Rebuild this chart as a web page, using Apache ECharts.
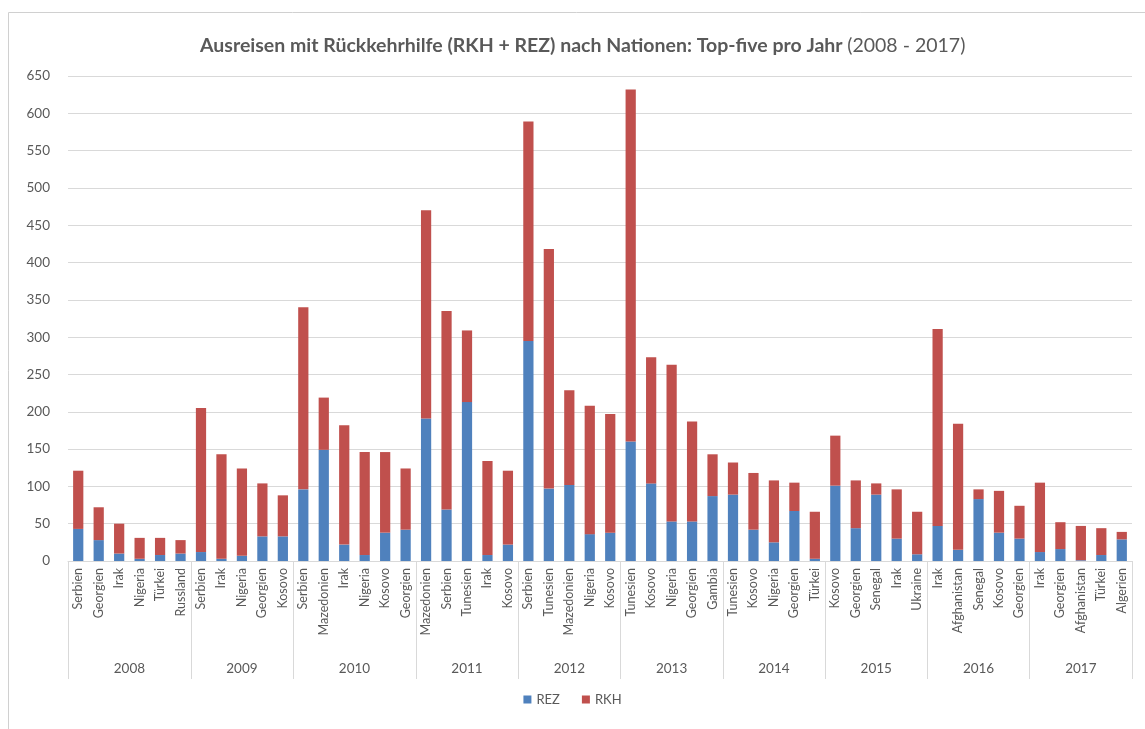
<!DOCTYPE html>
<html>
<head>
<meta charset="utf-8">
<script src="https://cdn.jsdelivr.net/npm/echarts@6/dist/echarts.min.js"></script>
<style>
  html, body { margin: 0; padding: 0; background: #fff; }
  #chart { width: 1145px; height: 729px; }
</style>
</head>
<body>
<div id="chart"></div>
<script>
// Jahre und Anzahl Nationen je Jahr
var years = ['2008', '2009', '2010', '2011', '2012', '2013', '2014', '2015', '2016', '2017'];
var nations = [
    'Serbien', 'Georgien', 'Irak', 'Nigeria', 'Türkei', 'Russland',
    'Serbien', 'Irak', 'Nigeria', 'Georgien', 'Kosovo',
    'Serbien', 'Mazedonien', 'Irak', 'Nigeria', 'Kosovo', 'Georgien',
    'Mazedonien', 'Serbien', 'Tunesien', 'Irak', 'Kosovo',
    'Serbien', 'Tunesien', 'Mazedonien', 'Nigeria', 'Kosovo',
    'Tunesien', 'Kosovo', 'Nigeria', 'Georgien', 'Gambia',
    'Tunesien', 'Kosovo', 'Nigeria', 'Georgien', 'Türkei',
    'Kosovo', 'Georgien', 'Senegal', 'Irak', 'Ukraine',
    'Irak', 'Afghanistan', 'Senegal', 'Kosovo', 'Georgien',
    'Irak', 'Georgien', 'Afghanistan', 'Türkei', 'Algerien'
];
var groupSizes = [6, 5, 6, 5, 5, 5, 5, 5, 5, 5];

var rez = [
    43, 28, 10, 3, 8, 10,
    12, 3, 7, 33, 33,
    96, 149, 22, 8, 38, 42,
    191, 69, 213, 8, 22,
    295, 97, 102, 36, 38,
    160, 104, 53, 53, 87,
    89, 42, 25, 67, 3,
    101, 44, 89, 30, 9,
    47, 15, 83, 38, 30,
    12, 16, 1, 8, 29
];
var rkh = [
    78, 44, 40, 28, 23, 18,
    193, 140, 117, 71, 55,
    244, 70, 160, 138, 108, 82,
    279, 266, 96, 126, 99,
    294, 321, 127, 172, 159,
    472, 169, 210, 134, 56,
    43, 76, 83, 38, 63,
    67, 64, 15, 66, 57,
    264, 169, 13, 56, 44,
    93, 36, 46, 36, 10
];

var yTicks = { min: 0, max: 650, interval: 50 };

// Gruppengrenzen und -mitten fuer die Jahresachse
var bounds = [0];
var mids = [];
groupSizes.forEach(function (n, i)
{
    mids.push(bounds[i] + n / 2);
    bounds.push(bounds[i] + n);
});

var grey = '#595959';
var font = 'Lato';

var chart = echarts.init(document.getElementById('chart'));

var option = {
    animation: false,
    textStyle: { fontFamily: font },
    title: {
        left: 195,
        top: 31,
        text: '{b|Ausreisen mit Rückkehrhilfe (RKH + REZ) nach Nationen: Top-five pro Jahr} {n|(2008 - 2017)}',
        textStyle: {
            fontWeight: 'normal',
            rich: {
                b: { fontFamily: font, fontSize: 19.5, fontWeight: 'bold', color: grey },
                n: { fontFamily: font, fontSize: 19.5, fontWeight: 'normal', color: grey }
            }
        }
    },
    legend: {
        bottom: 18,
        left: 'center',
        itemWidth: 8,
        itemHeight: 8,
        itemGap: 22,
        icon: 'rect',
        textStyle: { color: grey, fontSize: 13, fontFamily: font },
        data: ['REZ', 'RKH']
    },
    grid: {
        left: 68,
        right: 13,
        top: 76,
        bottom: 168,
        containLabel: false
    },
    xAxis: [{
        type: 'category',
        data: nations,
        axisLine: { lineStyle: { color: '#d9d9d9' } },
        axisTick: { show: false },
        axisLabel: {
            rotate: 90,
            interval: 0,
            color: grey,
            fontSize: 12.5,
            fontFamily: font,
            margin: 7
        }
    }, {
        type: 'value',
        position: 'bottom',
        min: 0,
        max: nations.length,
        splitLine: { show: false },
        axisLine: { show: false },
        axisTick: {
            show: true,
            inside: false,
            length: 118,
            customValues: bounds,
            lineStyle: { color: '#d9d9d9' }
        },
        axisLabel: {
            customValues: mids,
            margin: 101,
            color: grey,
            fontSize: 13.5,
            fontFamily: font,
            formatter: function (v)
            {
                return years[mids.indexOf(v)];
            }
        }
    }],
    yAxis: {
        type: 'value',
        min: yTicks.min,
        max: yTicks.max,
        interval: yTicks.interval,
        axisLine: { show: false },
        axisTick: { show: false },
        splitLine: { lineStyle: { color: '#d9d9d9' } },
        axisLabel: { color: grey, fontSize: 13.5, fontFamily: font, margin: 18 }
    },
    series: [{
        name: 'REZ',
        type: 'bar',
        stack: 'total',
        barWidth: '50%',
        itemStyle: { color: '#4f81bd' },
        data: rez
    }, {
        name: 'RKH',
        type: 'bar',
        stack: 'total',
        barWidth: '50%',
        itemStyle: { color: '#c0504d' },
        data: rkh
    }],
    graphic: [{
        type: 'polyline',
        shape: { points: [[8.5, 729], [8.5, 12.5], [1145, 12.5]] },
        style: { stroke: '#d0d0d0', fill: null, lineWidth: 1 }
    }]
};

chart.setOption(option);
</script>
</body>
</html>
